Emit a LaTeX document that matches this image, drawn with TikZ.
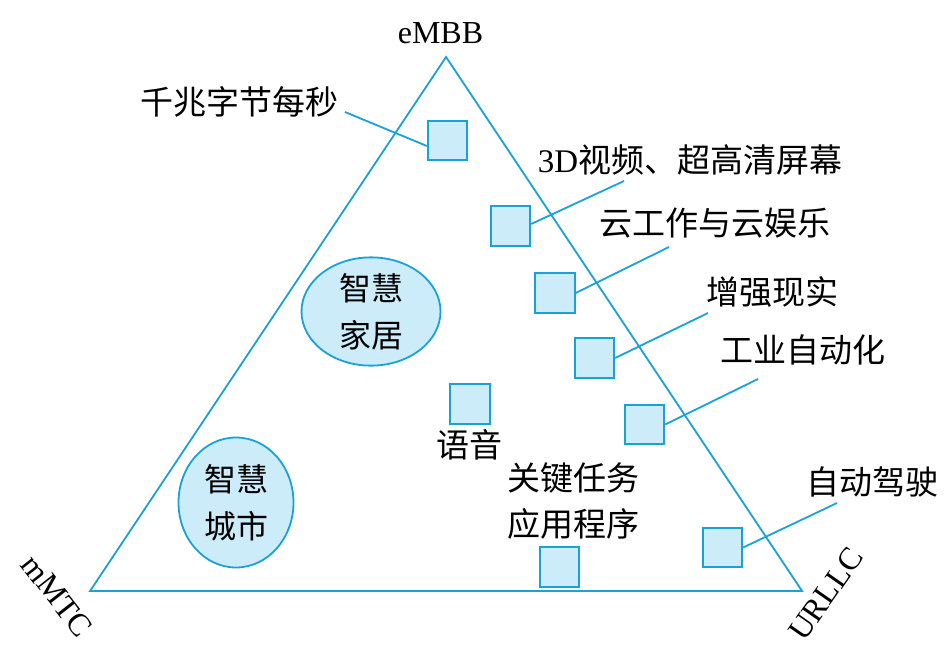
\documentclass[tikz,border=0pt]{standalone}
\usepackage{fontspec}
\setmainfont{Liberation Serif}
\newfontfamily\cjk{Noto Sans CJK SC}
\usetikzlibrary{shapes.geometric}
\definecolor{lineblue}{RGB}{25,162,218}
\definecolor{fillblue}{RGB}{204,236,250}
\begin{document}
\begin{tikzpicture}[x=1pt,y=-1pt,
  box/.style={rectangle, draw=lineblue, fill=fillblue, line width=1.8pt, minimum size=39.5pt, inner sep=0pt},
  blob/.style={ellipse, draw=lineblue, fill=fillblue, line width=1.8pt, inner sep=0pt, align=center, font=\cjk\fontsize{32}{47}\selectfont},
  lbl/.style={font=\cjk\fontsize{33}{46}\selectfont, inner sep=0pt, align=center},
  lat/.style={font=\fontsize{32}{38}\selectfont, inner sep=0pt},
  conn/.style={draw=lineblue, line width=1.8pt, line join=miter}]
\useasboundingbox (0,0) rectangle (948,659);
% triangle
\coordinate (apex) at (446,57);
\coordinate (lv) at (90,591);
\coordinate (rv) at (802,591);
\draw[conn] (apex) -- (lv) -- (rv) -- cycle;
% corner labels
\node[lat] (embb) at (440.5,33) {eMBB};
\node[lat, rotate=-52] (mmtc) at (57,596) {mMTC};
\node[lat, rotate=55] (urllc) at (826,594) {URLLC};
% ellipses
\node[blob, minimum width=139pt, minimum height=108pt] (home) at (371,311.5) {智慧\\家居};
\node[blob, minimum width=115pt, minimum height=130pt] (city) at (236,502.5) {智慧\\城市};
% squares
\node[box] (s1) at (447.5,140.5) {};
\node[box] (s2) at (510.5,226) {};
\node[box] (s3) at (555,293) {};
\node[box] (s4) at (594.5,358) {};
\node[box] (s5) at (644.5,424.5) {};
\node[box] (s6) at (722.5,547.5) {};
\node[box] (s7) at (470,404) {};
\node[box] (s8) at (559.5,567) {};
% labels
\node[lbl] (t1) at (239,102) {千兆字节每秒};
\node[lbl] (t2) at (690,160) {{\rmfamily 3D}视频、超高清屏幕};
\node[lbl] (t3) at (715,223) {云工作与云娱乐};
\node[lbl] (t4) at (772,292) {增强现实};
\node[lbl] (t5) at (803,350) {工业自动化};
\node[lbl] (t6) at (872,482) {自动驾驶};
\node[lbl] (t7) at (469,445) {语音};
\node[lbl] (t8) at (573,501) {关键任务\\应用程序};
% connector ends
\coordinate (e1) at (345,112);
\coordinate (e2) at (624,181);
\coordinate (e3) at (669,247);
\coordinate (e4) at (708,313);
\coordinate (e5) at (758,379);
\coordinate (e6) at (837,503);
\draw[conn] ([yshift=-5.5pt]s1.west) -- (e1);
\draw[conn] ([yshift=2pt]s2.east) -- (e2);
\draw[conn] (s3.east) -- (e3);
\draw[conn] (s4.east) -- (e4);
\draw[conn] (s5.east) -- (e5);
\draw[conn] (s6.east) -- (e6);
\end{tikzpicture}
\end{document}
